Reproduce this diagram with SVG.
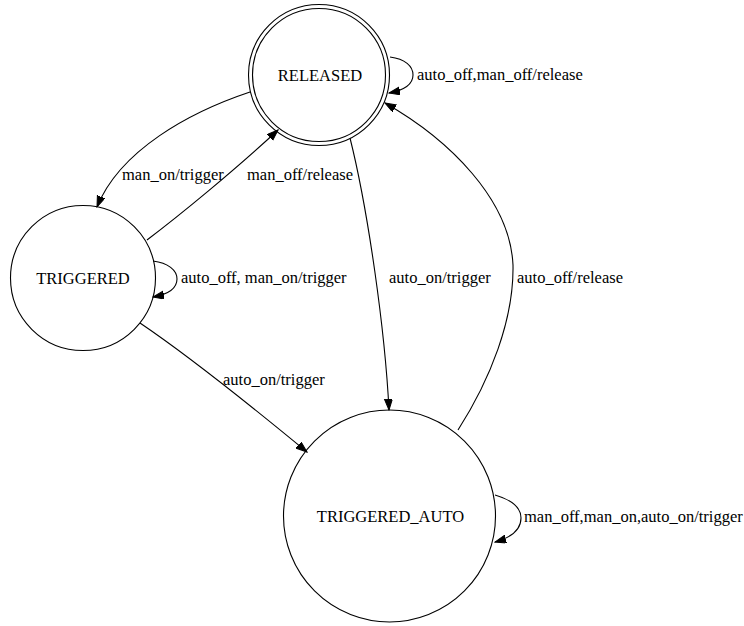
<svg xmlns="http://www.w3.org/2000/svg" width="744" height="626" viewBox="0 0 744 626" font-family="Liberation Serif, Times New Roman, serif">
<style>
.node{fill:none;stroke:#000;stroke-width:1.1}
.edge{fill:none;stroke:#000;stroke-width:1.1}
.t{font-family:'Liberation Serif','Times New Roman',serif;font-size:16.5px;fill:#000}
.c{text-anchor:middle}
</style>
<defs>
<marker id="arr" markerUnits="userSpaceOnUse" markerWidth="12" markerHeight="9" refX="11" refY="4" orient="auto">
<path d="M0,0 L11,4 L0,8 z" fill="#000" stroke="#000" stroke-width="1"/>
</marker>
</defs>
<rect width="744" height="626" fill="#fff"/>
<g id="edges">
<g id="e1"><path class="edge" d="M250,92 C190,112 120,150 97,207" marker-end="url(#arr)"/><text class="t" x="122" y="180">man_on/trigger</text></g>
<g id="e2"><path class="edge" d="M147,240 C180,215 235,170 278,130" marker-end="url(#arr)"/><text class="t" x="247" y="180">man_off/release</text></g>
<g id="e3"><path class="edge" d="M390,57 C405,59 413,66 413,75 C413,84 405,90 389,93" marker-end="url(#arr)"/><text class="t" x="417" y="80">auto_off,man_off/release</text></g>
<g id="e4"><path class="edge" d="M350,138 C368,210 385,330 389,410" marker-end="url(#arr)"/><text class="t" x="389" y="283">auto_on/trigger</text></g>
<g id="e5"><path class="edge" d="M458,430 C490,380 514,320 513,265 C510,200 450,140 385,103" marker-end="url(#arr)"/><text class="t" x="517" y="283">auto_off/release</text></g>
<g id="e6"><path class="edge" d="M153,261 C168,263 177,270 177,279 C177,288 170,294 153,297" marker-end="url(#arr)"/><text class="t" x="181" y="283">auto_off, man_on/trigger</text></g>
<g id="e7"><path class="edge" d="M140,323 C180,350 250,405 307,452" marker-end="url(#arr)"/><text class="t" x="223" y="385">auto_on/trigger</text></g>
<g id="e8"><path class="edge" d="M495,495 C512,500 521,508 521,518 C521,528 513,537 495,542" marker-end="url(#arr)"/><text class="t" x="524" y="522">man_off,man_on,auto_on/trigger</text></g>
</g>
<g id="RELEASED">
<circle class="node" cx="319" cy="75" r="70.5"/>
<circle class="node" cx="319" cy="75" r="66.5"/>
<text class="t c" x="320" y="80.5">RELEASED</text>
</g>
<g id="TRIGGERED">
<circle class="node" cx="83" cy="278" r="72.5"/>
<text class="t c" x="83" y="283.5">TRIGGERED</text>
</g>
<g id="TRIGGERED_AUTO">
<circle class="node" cx="389.5" cy="516" r="106"/>
<text class="t c" x="390.5" y="522">TRIGGERED_AUTO</text>
</g>
</svg>
